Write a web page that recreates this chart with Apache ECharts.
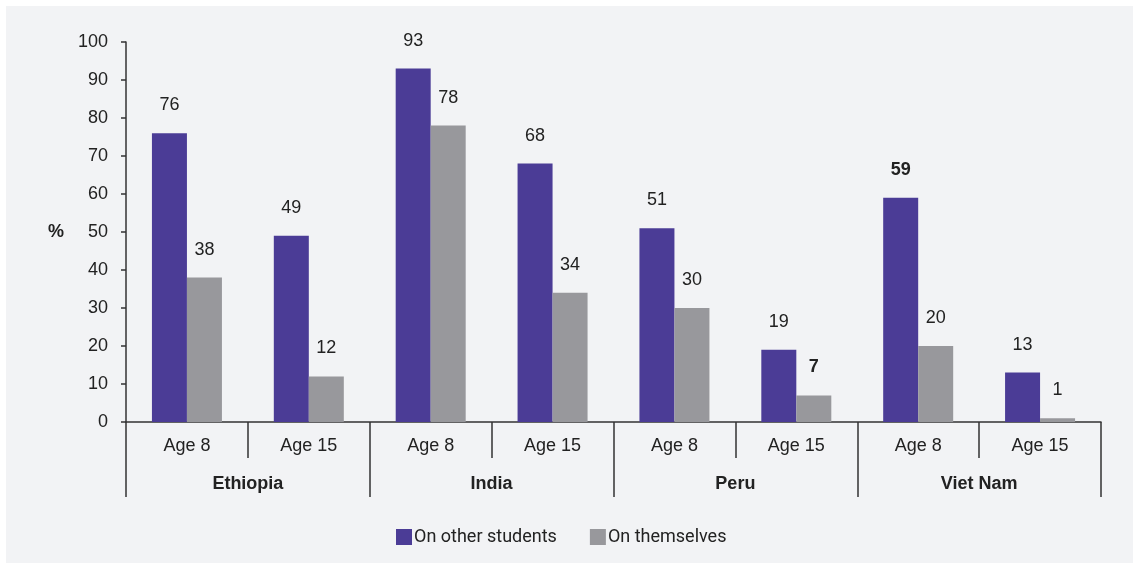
<!DOCTYPE html>
<html>
<head>
<meta charset="utf-8">
<script src="https://cdn.jsdelivr.net/npm/echarts@6/dist/echarts.min.js"></script>
<style>
html,body{margin:0;padding:0;background:#ffffff;}
#c{width:1139px;height:569px;}
</style>
</head>
<body>
<div id="c"></div>
<script>
var ages = ['Age 8','Age 15','Age 8','Age 15','Age 8','Age 15','Age 8','Age 15'];
var countries = ['Ethiopia','India','Peru','Viet Nam'];
var seriesNames = ['On other students','On themselves'];
var otherStudents = [76, 49, 93, 68, 51, 19, 59, 13];
var themselves = [38, 12, 78, 34, 30, 7, 20, 1];
var boldOther = [6];
var boldThemselves = [5];
var yTicks = [0,10,20,30,40,50,60,70,80,90,100];

var narrow = '"Liberation Sans Narrow", "Arial Narrow", "Liberation Sans", Arial, sans-serif';
var regular = '"Liberation Sans", Arial, sans-serif';

function mk(vals, bolds){
  return vals.map(function(v,i){
    var d = {value: v};
    if (bolds.indexOf(i) >= 0) d.label = {fontWeight:'bold'};
    return d;
  });
}

var chart = echarts.init(document.getElementById('c'));
chart.setOption({
  backgroundColor: '#ffffff',
  animation: false,
  graphic: [{type:'rect', shape:{x:6,y:6,width:1127,height:557}, style:{fill:'#f2f3f5'}, z:-10, silent:true}],
  grid: {left:126, right:38, top:42, bottom:147},
  legend: {
    bottom: 18, left: 391,
    itemWidth: 16, itemHeight: 16, itemGap: 33, icon: 'rect',
    textStyle: {fontFamily: 'Roboto, "Liberation Sans", sans-serif', fontSize: 18, color:'#222', padding:[0,0,0,-3]},
    data: seriesNames
  },
  xAxis: [{
    type:'category', data: ages, position:'bottom',
    axisLine:{lineStyle:{color:'#333', width:1.5}},
    axisTick:{show:true, length:36, lineStyle:{color:'#333', width:1.5}},
    axisLabel:{margin:15, fontFamily:narrow, fontSize:18, color:'#222'}
  },{
    type:'category', data: countries, position:'bottom',
    axisLine:{show:false},
    axisTick:{show:true, length:75, lineStyle:{color:'#333', width:1.5}},
    axisLabel:{margin:53, fontFamily:narrow, fontSize:18, fontWeight:'bold', color:'#222'}
  }],
  yAxis: {
    type:'value', min: yTicks[0], max: yTicks[yTicks.length-1], interval: 10,
    name:'%', nameLocation:'middle', nameRotate:0, nameGap:62,
    nameTextStyle:{fontFamily:regular, fontSize:18, fontWeight:'bold', color:'#222'},
    axisLine:{show:true, lineStyle:{color:'#333', width:1.5}},
    axisTick:{show:true, length:5, lineStyle:{color:'#333', width:1.5}},
    axisLabel:{margin:18, fontFamily:regular, fontSize:18, color:'#222'},
    splitLine:{show:false}
  },
  series: [{
    name: seriesNames[0], type:'bar', barWidth:35, barGap:'0%',
    itemStyle:{color:'#4b3c96'},
    label:{show:true, position:'top', distance:19, fontFamily:regular, fontSize:18, color:'#222'},
    data: mk(otherStudents, boldOther)
  },{
    name: seriesNames[1], type:'bar', barWidth:35, barGap:'0%',
    itemStyle:{color:'#98989c'},
    label:{show:true, position:'top', distance:19, fontFamily:regular, fontSize:18, color:'#222'},
    data: mk(themselves, boldThemselves)
  }]
});
</script>
</body>
</html>
